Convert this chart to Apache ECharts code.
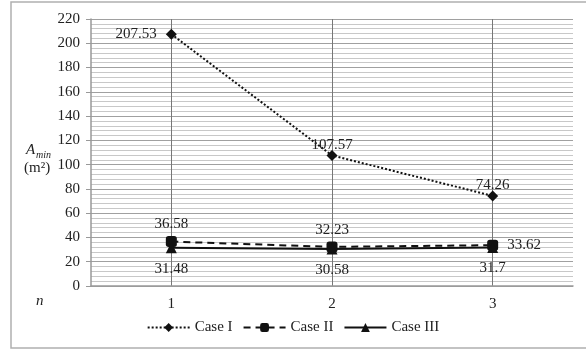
<!DOCTYPE html>
<html><head><meta charset="utf-8">
<script src="https://cdn.jsdelivr.net/npm/echarts@6/dist/echarts.min.js"></script>
<style>html,body{margin:0;padding:0;background:#fff}#c{width:586px;height:353px}</style>
</head><body><div id="c"></div>
<script>
var categories = ['1', '2', '3'];
var caseI = [207.53, 107.57, 74.26];
var caseII = [36.58, 32.23, 33.62];
var caseIII = [31.48, 30.58, 31.7];
var seriesNames = ['Case I', 'Case II', 'Case III'];
var yTicks = {min: 0, max: 220, interval: 20};

var F = 'Liberation Serif';
var FS = 15;
var chart = echarts.init(document.getElementById('c'));
function lbl(pos, off) {
  return {show: true, position: pos, offset: off || [0,0], color: '#222', fontFamily: F, fontSize: FS};
}
chart.setOption({
  animation: false,
  graphic: [
    {type: 'rect', shape: {x: 11, y: 2, width: 600, height: 346}, style: {fill: 'none', stroke: '#b0b0b0', lineWidth: 1.5}, z: -1},
    {type: 'text', left: 26, top: 143, style: {text: 'A', font: 'italic 15px "Liberation Serif"', fill: '#222'}},
    {type: 'text', left: 36, top: 150, style: {text: 'min', font: 'italic 10px "Liberation Serif"', fill: '#222'}},
    {type: 'text', left: 24, top: 161, style: {text: '(m\u00B2)', font: '15px "Liberation Serif"', fill: '#222'}},
    {type: 'text', left: 36, top: 294, style: {text: 'n', font: 'italic 15px "Liberation Serif"', fill: '#222'}}
  ],
  grid: {left: 91, right: 13, top: 19, bottom: 67, containLabel: false},
  legend: {
    top: 315, left: 'center', itemWidth: 42, itemHeight: 11, itemGap: 10,
    textStyle: {fontFamily: F, fontSize: FS, color: '#222'},
    data: seriesNames
  },
  xAxis: {
    type: 'category', data: categories, boundaryGap: true,
    axisLine: {lineStyle: {color: '#999', width: 1.5}},
    axisTick: {show: false},
    axisLabel: {fontFamily: F, fontSize: FS, color: '#222', margin: 11},
    splitLine: {show: true, alignWithLabel: true, lineStyle: {color: '#777', width: 1}}
  },
  yAxis: {
    type: 'value', min: yTicks.min, max: yTicks.max, interval: yTicks.interval,
    axisLine: {show: true, lineStyle: {color: '#999', width: 1.5}},
    axisTick: {show: true, inside: false, length: 5, lineStyle: {color: '#999'}},
    axisLabel: {fontFamily: F, fontSize: FS, color: '#222', margin: 11},
    splitLine: {show: true, lineStyle: {color: '#a0a0a0', width: 1.2}},
    minorTick: {show: false, splitNumber: 5},
    minorSplitLine: {show: true, lineStyle: {color: '#c8c8c8', width: 1}}
  },
  series: [
    {name: seriesNames[0], type: 'line', symbol: 'diamond', symbolSize: 11,
     lineStyle: {color: '#111', width: 2, type: [2, 2]}, itemStyle: {color: '#111'},
     data: [
       {value: caseI[0], label: lbl('left', [-4, 0])},
       {value: caseI[1], label: lbl('top', [0, 8])},
       {value: caseI[2], label: lbl('top', [0, 7])}
     ]},
    {name: seriesNames[1], type: 'line', symbol: 'roundRect', symbolSize: 11,
     lineStyle: {color: '#111', width: 2, type: [7, 5]}, itemStyle: {color: '#111'},
     data: [
       {value: caseII[0], label: lbl('top', [0, 0])},
       {value: caseII[1], label: lbl('top', [0, 1])},
       {value: caseII[2], label: lbl('right', [4, 0])}
     ]},
    {name: seriesNames[2], type: 'line', symbol: 'triangle', symbolSize: 11,
     lineStyle: {color: '#111', width: 2, type: 'solid'}, itemStyle: {color: '#111'},
     data: [
       {value: caseIII[0], label: lbl('bottom', [0, 3])},
       {value: caseIII[1], label: lbl('bottom', [0, 3])},
       {value: caseIII[2], label: lbl('bottom', [0, 3])}
     ]}
  ]
});
</script></body></html>
